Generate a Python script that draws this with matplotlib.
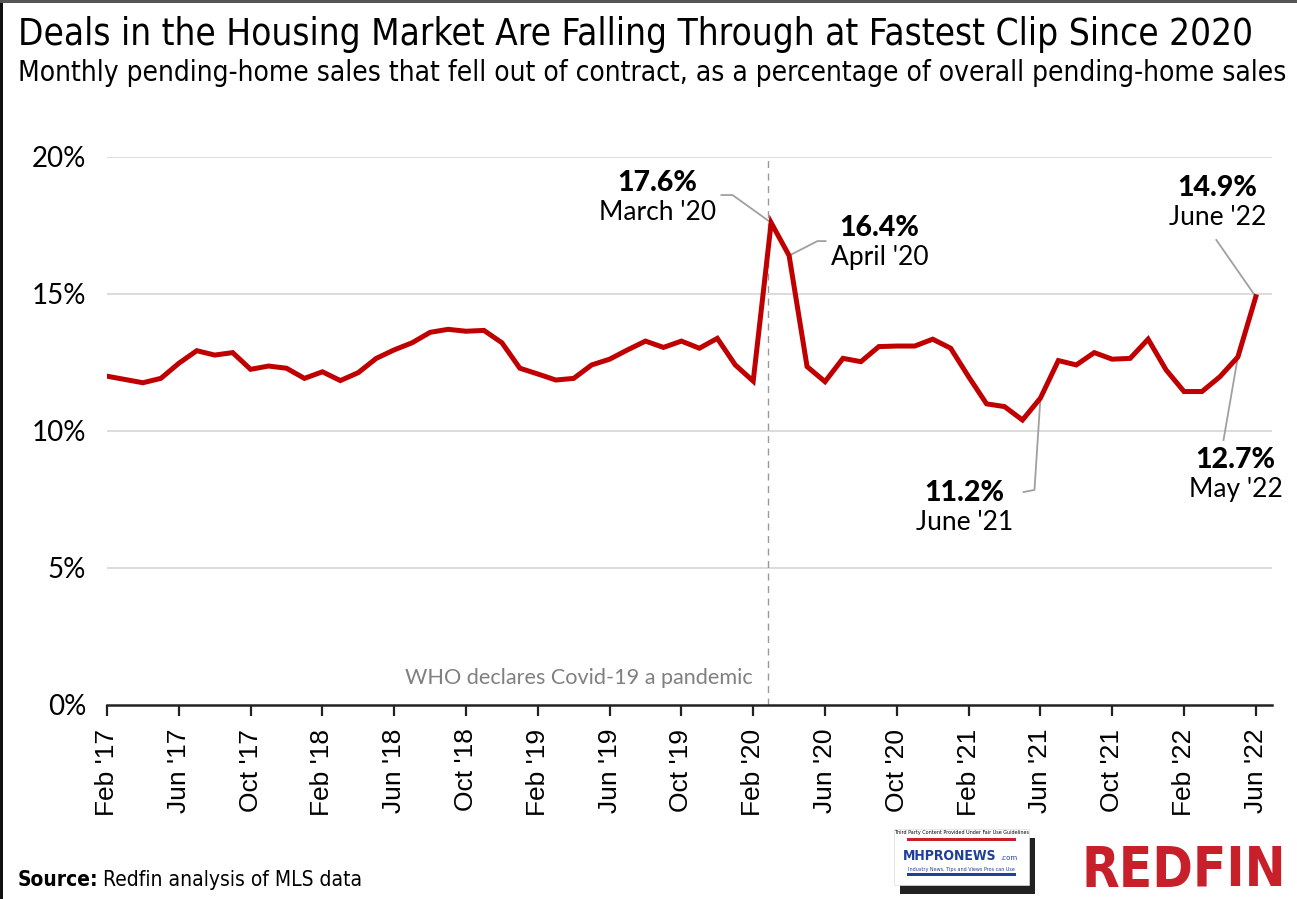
import numpy as np
import matplotlib.pyplot as plt
from matplotlib.patches import Rectangle

# monthly fall-out rate (%), Feb 2017 .. Jun 2022
vals_2017 = [12.0, 11.88, 11.76, 11.92, 12.47, 12.93, 12.77, 12.86, 12.25, 12.37, 12.29]
vals_2018 = [11.92, 12.16, 11.84, 12.13, 12.65, 12.96, 13.22, 13.6, 13.71, 13.64, 13.67, 13.22]
vals_2019 = [12.29, 12.08, 11.86, 11.92, 12.41, 12.62, 12.96, 13.28, 13.05, 13.28, 13.02, 13.38]
vals_2020 = [12.41, 11.82, 17.6, 16.4, 12.35, 11.8, 12.65, 12.53, 13.08, 13.1, 13.1, 13.35]
vals_2021 = [13.02, 11.98, 10.99, 10.89, 10.4, 11.2, 12.57, 12.41, 12.86, 12.62, 12.65, 13.35]
vals_2022 = [12.23, 11.44, 11.44, 11.98, 12.7, 14.9]
values = vals_2017 + vals_2018 + vals_2019 + vals_2020 + vals_2021 + vals_2022

tick_labels = ["Feb '17", "Jun '17", "Oct '17", "Feb '18", "Jun '18", "Oct '18",
               "Feb '19", "Jun '19", "Oct '19", "Feb '20", "Jun '20", "Oct '20",
               "Feb '21", "Jun '21", "Oct '21", "Feb '22", "Jun '22"]
y_ticks = [0, 5, 10, 15, 20]

# callouts: (month index, bold value, month label)
callouts = [(37, "17.6%", "March '20"), (38, "16.4%", "April '20"),
            (52, "11.2%", "June '21"), (63, "12.7%", "May '22"),
            (64, "14.9%", "June '22")]

RED = "#c00000"
GRAY = "#a0a0a0"
SANS = ["Lato", "DejaVu Sans"]
NARROW = ["DejaVu Sans"]

x = np.arange(len(values))

fig = plt.figure(figsize=(12.97, 8.99), dpi=100)
ax = fig.add_axes([0.0825, 0.2158, 0.8982, 0.6096])


def fit_width(txt, target_px):
    # shrink / grow the font so the text spans target_px
    fig.canvas.draw()
    w = txt.get_window_extent().width
    txt.set_fontsize(txt.get_fontsize() * target_px / w)


# Grid lines
for t in y_ticks[1:]:
    ax.axhline(t, color="#d9d9d9", lw=1.3, zorder=1)

# The main line
ax.plot(x, values, color=RED, lw=3.6, solid_joinstyle="miter", zorder=4)

# pandemic marker
ax.axvline(36.85, color="#999999", lw=1, ls=(0, (5, 4)), zorder=2)
who = ax.text(35.95, 1.0, "WHO declares Covid-19 a pandemic", ha="right", va="center",
              fontsize=15, color="#808080", family=SANS)
fit_width(who, 348)

ax.set_xlim(0, 64.9)
ax.set_ylim(0, 20)
ax.set_yticks(y_ticks)
ax.set_yticklabels([f"{t}%" for t in y_ticks])
ax.set_xticks(np.arange(0, 65, 4))
ax.set_xticklabels(tick_labels, rotation=90)

for s in ["top", "right", "left"]:
    ax.spines[s].set_visible(False)
ax.spines["bottom"].set_linewidth(1.8)
ax.spines["bottom"].set_color("#222222")
ax.tick_params(axis="y", length=0, pad=15, labelsize=20)
ax.tick_params(axis="x", length=8, width=1.6, color="#222222", pad=9, labelsize=19)
for lab in ax.get_yticklabels():
    lab.set_family(SANS)
for lab in ax.get_xticklabels():
    lab.set_family(["Liberation Sans", "DejaVu Sans"])

# leader lines, text positions (x, y for bold value) and elbows
text_pos = {37: (30.67, 19.05), 38: (43.04, 17.41), 52: (47.77, 7.74),
            63: (62.87, 8.94), 64: (61.87, 18.87)}
elbows = {37: [(34.23, 18.61), (34.85, 18.61)],
          38: [(40.03, 16.93), (39.58, 16.93)],
          52: [(51.06, 7.77), (51.67, 7.85)],
          63: [(62.2, 9.67)],
          64: [(61.8, 16.97)]}
for idx, val_txt, month_txt in callouts:
    pts = elbows[idx] + [(idx, values[idx])]
    ax.plot([p[0] for p in pts], [p[1] for p in pts], color=GRAY, lw=1.3,
            zorder=3, clip_on=False)
    tx, ty = text_pos[idx]
    ax.text(tx, ty, val_txt, ha="center", va="center", fontsize=20.5,
            fontweight="black", family=SANS, zorder=5)
    ax.text(tx, ty - 1.08, month_txt, ha="center", va="center", fontsize=19,
            family=SANS, zorder=5)

# Titles
W = fig.bbox.width
t1 = fig.text(18 / W, 0.962, "Deals in the Housing Market Are Falling Through at Fastest Clip Since 2020",
              fontsize=27, family=NARROW, fontstretch="condensed", va="center", ha="left")
fit_width(t1, 1232)
t2 = fig.text(18 / W, 0.919, "Monthly pending-home sales that fell out of contract, as a percentage of overall pending-home sales",
              fontsize=19, family=NARROW, fontstretch="condensed", va="center", ha="left")
fit_width(t2, 1267)

# source line
src = fig.text(18 / W, 0.021, "Source:", fontsize=15, fontweight="bold", family=NARROW,
               fontstretch="condensed", va="center", ha="left")
fig.canvas.draw()
bb = src.get_window_extent()
fig.text((bb.x1 + 4) / W, 0.021, "Redfin analysis of MLS data", fontsize=15,
         family=NARROW, fontstretch="condensed", va="center", ha="left")

# logos
fig.patches.append(Rectangle((0.694, 0.006), 0.104, 0.062, transform=fig.transFigure,
                             facecolor="#222222", edgecolor="none", zorder=1))
fig.patches.append(Rectangle((0.689, 0.016), 0.104, 0.062, transform=fig.transFigure,
                             facecolor="white", edgecolor="#dddddd", lw=0.5, zorder=2))
fig.text(0.741, 0.074, "Third Party Content Provided Under Fair Use Guidelines", fontsize=3.5,
         ha="center", va="center", zorder=3)
fig.patches.append(Rectangle((0.699, 0.065), 0.084, 0.0025, transform=fig.transFigure,
                             facecolor="#c8202a", edgecolor="none", zorder=3))
fig.text(0.732, 0.048, "MHPRONEWS", fontsize=10, fontweight="bold", family=NARROW,
         fontstretch="condensed", color="#1f3f99", ha="center", va="center", zorder=3)
fig.text(0.771, 0.046, ".com", fontsize=5, color="#1f3f99", ha="left", va="center", zorder=3)
fig.text(0.741, 0.033, "Industry News, Tips and Views Pros can Use", fontsize=3.5,
         color="#1f3f99", ha="center", va="center", zorder=3)
fig.patches.append(Rectangle((0.699, 0.026), 0.084, 0.0025, transform=fig.transFigure,
                             facecolor="#1f3f99", edgecolor="none", zorder=3))
logo = fig.text(0.992, 0.031, "REDFIN", fontsize=50, fontweight="bold", family=NARROW,
                fontstretch="condensed", color="#c8202a", ha="right", va="center")
fit_width(logo, 205)

# black frame at left and top edge
fig.patches.append(Rectangle((0, 0), 0.0025, 1, transform=fig.transFigure,
                             facecolor="#111111", edgecolor="none"))
fig.patches.append(Rectangle((0, 0.997), 1, 0.003, transform=fig.transFigure,
                             facecolor="#555555", edgecolor="none"))

fig.savefig("out.png", dpi=100)
